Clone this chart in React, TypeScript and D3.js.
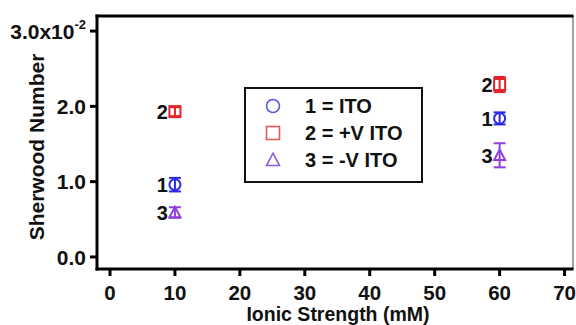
import React from "react";
import * as d3 from "d3";

const W = 576;
const H = 325;

// Ionic strength (mM) at which each condition was measured
const ionicStrength = [10, 60];
// Sherwood number (x10^-2) per series, with +/- error
const itoValues = [0.96, 1.84];
const itoErrors = [0.09, 0.08];
const posItoValues = [1.93, 2.29];
const posItoErrors = [0.06, 0.1];
const negItoValues = [0.59, 1.35];
const negItoErrors = [0.07, 0.16];

const xTicks = [0, 10, 20, 30, 40, 50, 60, 70];
const yTicks = [0, 1, 2, 3];
const yTickLabels = ["0.0", "1.0", "2.0", "3.0x10"];

const seriesNames = ["1 = ITO", "2 = +V ITO", "3 = -V ITO"];
const seriesLabels = ["1", "2", "3"];

const FONT = "'Liberation Sans', Arial, Helvetica, sans-serif";

type Shape = "circle" | "square" | "triangle";

const series: { label: string; shape: Shape; color: string; legendColor: string; values: number[]; errors: number[] }[] = [
  { label: seriesLabels[0], shape: "circle", color: "#2b2be6", legendColor: "#5a5ae0", values: itoValues, errors: itoErrors },
  { label: seriesLabels[1], shape: "square", color: "#e82028", legendColor: "#e05a5a", values: posItoValues, errors: posItoErrors },
  { label: seriesLabels[2], shape: "triangle", color: "#9040e0", legendColor: "#9060d8", values: negItoValues, errors: negItoErrors },
];

function Marker({ shape, cx, cy, r, color, width }: { shape: Shape; cx: number; cy: number; r: number; color: string; width: number }) {
  if (shape === "circle") {
    return <circle cx={cx} cy={cy} r={r} fill="none" stroke={color} strokeWidth={width} />;
  }
  if (shape === "square") {
    return <rect x={cx - r} y={cy - r} width={2 * r} height={2 * r} fill="none" stroke={color} strokeWidth={width} />;
  }
  const h = r * 1.9;
  const pts = [
    [cx, cy - h * 0.55],
    [cx + r, cy + h * 0.45],
    [cx - r, cy + h * 0.45],
  ];
  return <polygon points={pts.map((p) => p.join(",")).join(" ")} fill="none" stroke={color} strokeWidth={width} />;
}

export default function App() {
  const left = 97;
  const right = 573;
  const top = 16;
  const bottom = 269;

  const x = d3.scaleLinear().domain([-2, 71.3]).range([left, right]);
  const y = d3.scaleLinear().domain([-0.16, 3.2]).range([bottom, top]);

  return (
    <div style={{ position: "fixed", left: 0, top: 0, width: W, height: H, overflow: "hidden" }}>
      <svg width={W} height={H} style={{ display: "block" }} fontFamily={FONT} fontWeight="bold">
        <rect x={0} y={0} width={W} height={H} fill="#fff" />

        {/* frame */}
        <line x1={right} y1={top} x2={right} y2={bottom} stroke="#444" strokeWidth={1} />
        <line x1={left - 1.5} y1={top} x2={right + 0.5} y2={top} stroke="#000" strokeWidth={3} />
        <line x1={left} y1={top - 1.5} x2={left} y2={bottom + 1.5} stroke="#000" strokeWidth={3} />
        <line x1={left - 1.5} y1={bottom} x2={right + 0.5} y2={bottom} stroke="#000" strokeWidth={3} />

        {/* y axis ticks */}
        {yTicks.map((t, i) => (
          <g key={`yt${t}`}>
            <line x1={left - 7} x2={left} y1={y(t)} y2={y(t)} stroke="#000" strokeWidth={3} />
            {i === yTicks.length - 1 ? (
              <text x={86} y={y(t)} dy="0.36em" textAnchor="end" fontSize={21} fill="#111">
                {yTickLabels[i]}
                <tspan fontSize={13} dy="-0.75em">-2</tspan>
              </text>
            ) : (
              <text x={86} y={y(t)} dy="0.36em" textAnchor="end" fontSize={21} fill="#111">
                {yTickLabels[i]}
              </text>
            )}
          </g>
        ))}

        {/* x axis ticks */}
        {xTicks.map((t) => (
          <g key={`xt${t}`}>
            <line x1={x(t)} x2={x(t)} y1={bottom} y2={bottom + 7} stroke="#000" strokeWidth={3} />
            <text x={x(t)} y={299.5} textAnchor="middle" fontSize={20.5} fill="#111">
              {t}
            </text>
          </g>
        ))}

        {/* axis titles */}
        <text x={338} y={320.5} textAnchor="middle" fontSize={19.5} fill="#111">
          Ionic Strength (mM)
        </text>
        <text transform={`translate(44,147) rotate(-90)`} textAnchor="middle" fontSize={21} fill="#111">
          Sherwood Number
        </text>

        {/* data points with error bars */}
        {series.map((s) =>
          ionicStrength.map((xv, i) => {
            const cx = x(xv);
            const cy = y(s.values[i]);
            const yTop = y(s.values[i] + s.errors[i]);
            const yBot = y(s.values[i] - s.errors[i]);
            const cap = 6;
            return (
              <g key={`${s.label}-${xv}`}>
                <line x1={cx} x2={cx} y1={yTop} y2={yBot} stroke={s.color} strokeWidth={2} />
                <line x1={cx - cap} x2={cx + cap} y1={yTop} y2={yTop} stroke={s.color} strokeWidth={2} />
                <line x1={cx - cap} x2={cx + cap} y1={yBot} y2={yBot} stroke={s.color} strokeWidth={2} />
                <Marker shape={s.shape} cx={cx} cy={cy} r={5.5} color={s.color} width={2} />
                <text x={cx - 7} y={cy} dy="0.36em" textAnchor="end" fontSize={20} fill="#111">
                  {s.label}
                </text>
              </g>
            );
          })
        )}

        {/* legend */}
        <rect x={245} y={88} width={177} height={94} fill="#fff" stroke="#111" strokeWidth={2} />
        {series.map((s, i) => {
          const ly = 106 + i * 27;
          return (
            <g key={`lg${i}`}>
              <Marker shape={s.shape} cx={273} cy={ly} r={6.5} color={s.legendColor} width={1.6} />
              <text x={305} y={ly} dy="0.36em" fontSize={20} fill="#111">
                {seriesNames[i]}
              </text>
            </g>
          );
        })}
      </svg>
    </div>
  );
}
